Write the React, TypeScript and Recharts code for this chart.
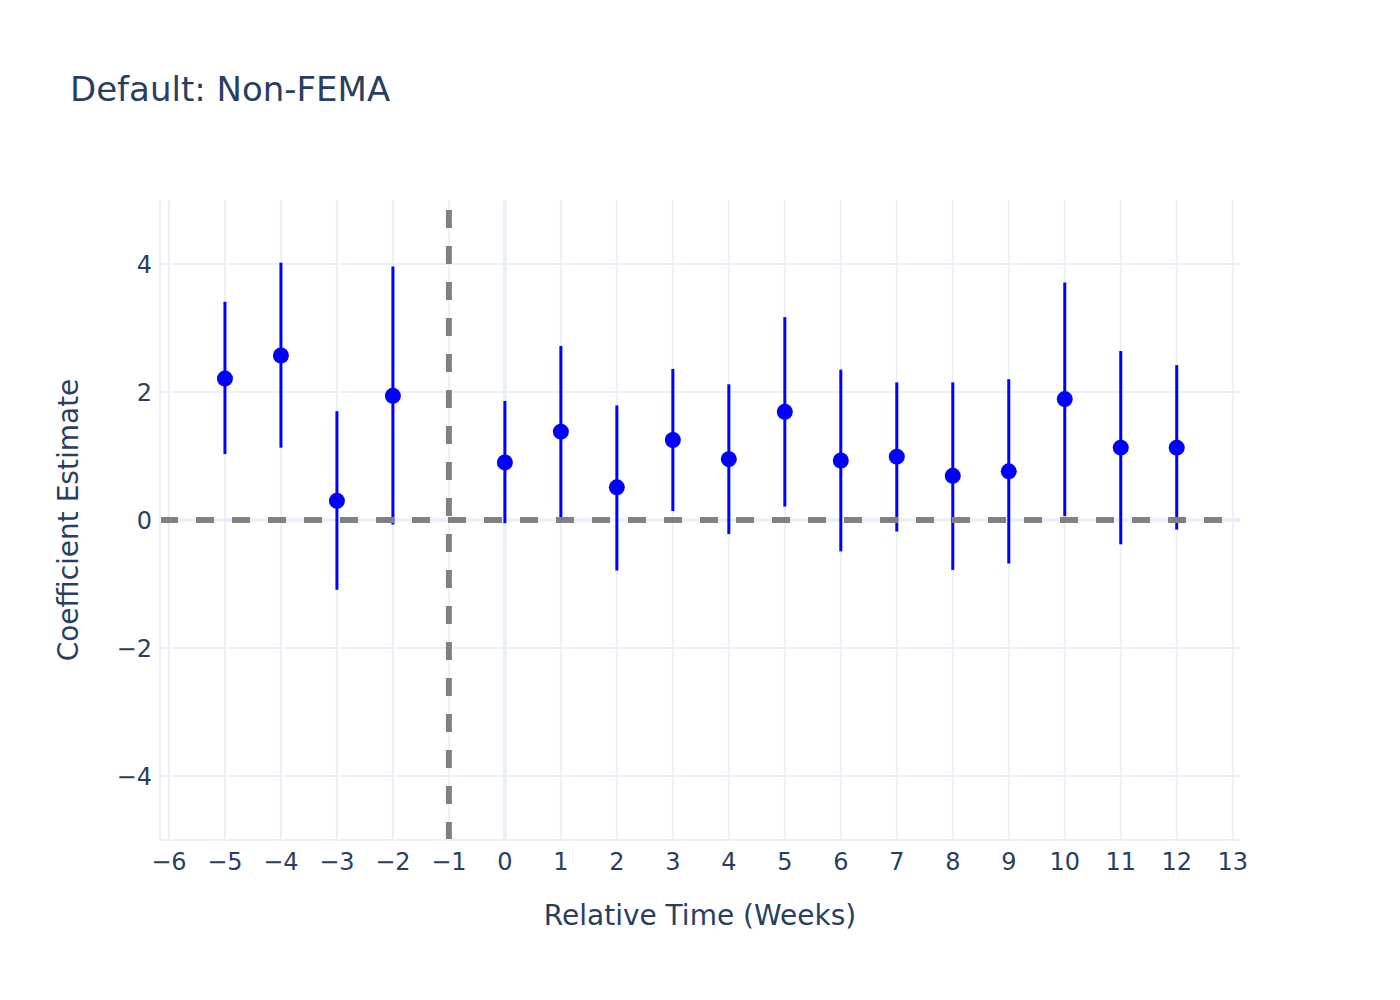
import React from 'react';
import { ScatterChart, Scatter, XAxis, YAxis, ErrorBar, ReferenceLine, Label } from 'recharts';

// event-study coefficients
const weeks = [-5, -4, -3, -2, 0, 1, 2, 3, 4, 5, 6, 7, 8, 9, 10, 11, 12];
const estimates = [2.21, 2.57, 0.30, 1.94, 0.90, 1.38, 0.51, 1.25, 0.95, 1.69, 0.93, 0.99, 0.69, 0.76, 1.89, 1.13, 1.13];
const lowerCI = [1.03, 1.13, -1.09, -0.07, -0.05, 0.04, -0.79, 0.14, -0.22, 0.21, -0.49, -0.18, -0.78, -0.68, 0.06, -0.38, -0.15];
const upperCI = [3.41, 4.02, 1.70, 3.96, 1.86, 2.72, 1.79, 2.36, 2.12, 3.17, 2.35, 2.15, 2.15, 2.20, 3.71, 2.64, 2.42];

const xTicks = [-6, -5, -4, -3, -2, -1, 0, 1, 2, 3, 4, 5, 6, 7, 8, 9, 10, 11, 12, 13];
const yTicks = [-4, -2, 0, 2, 4];

const X_DOMAIN: [number, number] = [-6.16, 13.13];
const Y_DOMAIN: [number, number] = [-5, 5];
const EVENT_WEEK = -1;

const FONT = '"DejaVu Sans", Verdana, sans-serif';
const TEXT = '#2a3f5f';
const GRID = '#EBF0F8';
const BLUE = '#0000ff';
const DASH = '#808080';

const data = weeks.map((w, i) => ({
    week: w,
    est: estimates[i],
    err: [estimates[i] - lowerCI[i], upperCI[i] - estimates[i]],
}));

const fmt = (v: number) => String(v).replace('-', '\u2212');

const Dot = (props: any) => <circle cx={props.cx} cy={props.cy} r={8} fill={BLUE} />;

const App: React.FC = () => {
    return (
        <div style={{ position: 'absolute', left: 0, top: 0, width: 1400, height: 1000, background: '#fff', fontFamily: FONT }}>
            <div style={{ position: 'absolute', left: 70, top: 72, fontSize: 34, lineHeight: '34px', color: TEXT, whiteSpace: 'nowrap' }}>
                Default: Non-FEMA
            </div>
            <ScatterChart width={1400} height={1000} margin={{ top: 200, right: 160, bottom: 120, left: 100 }}>
                {/* grid drawn by hand so there is no border on the right/top */}
                {xTicks.map(t => (
                    <ReferenceLine key={`gx${t}`} x={t} stroke={GRID} strokeWidth={2} />
                ))}
                {yTicks.map(t => (
                    <ReferenceLine key={`gy${t}`} y={t} stroke={GRID} strokeWidth={2} />
                ))}
                <XAxis
                    type="number"
                    dataKey="week"
                    domain={X_DOMAIN}
                    ticks={xTicks}
                    interval={0}
                    allowDataOverflow
                    tickFormatter={fmt}
                    height={40}
                    tickSize={0}
                    tickMargin={13}
                    tickLine={false}
                    axisLine={{ stroke: GRID, strokeWidth: 2 }}
                    tick={{ fill: TEXT, fontSize: 24, fontFamily: FONT }}
                >
                    <Label value="Relative Time (Weeks)" position="bottom" offset={25} fill={TEXT} fontSize={28} fontFamily={FONT} />
                </XAxis>
                <YAxis
                    type="number"
                    dataKey="est"
                    domain={Y_DOMAIN}
                    ticks={yTicks}
                    interval={0}
                    allowDataOverflow
                    tickFormatter={fmt}
                    width={60}
                    tickSize={0}
                    tickMargin={8}
                    tickLine={false}
                    axisLine={{ stroke: GRID, strokeWidth: 2 }}
                    tick={{ fill: TEXT, fontSize: 24, fontFamily: FONT }}
                >
                    <Label value="Coefficient Estimate" angle={-90} position="center" dx={-62} fill={TEXT} fontSize={28} fontFamily={FONT} />
                </YAxis>
                <ReferenceLine x={0} stroke={GRID} strokeWidth={4} />
                <ReferenceLine y={0} stroke={GRID} strokeWidth={4} />
                <Scatter data={data} shape={Dot} isAnimationActive={false}>
                    <ErrorBar dataKey="err" direction="y" width={0} stroke={BLUE} strokeWidth={3} isAnimationActive={false} />
                </Scatter>
                <ReferenceLine
                    segment={[{ x: X_DOMAIN[0], y: 0 }, { x: X_DOMAIN[1], y: 0 }]}
                    stroke={DASH}
                    strokeWidth={6}
                    strokeDasharray="18 18"
                    ifOverflow="visible"
                />
                <ReferenceLine
                    segment={[{ x: EVENT_WEEK, y: Y_DOMAIN[0] }, { x: EVENT_WEEK, y: Y_DOMAIN[1] }]}
                    stroke={DASH}
                    strokeWidth={6}
                    strokeDasharray="18 18"
                    ifOverflow="visible"
                />
            </ScatterChart>
        </div>
    );
};

export default App;
